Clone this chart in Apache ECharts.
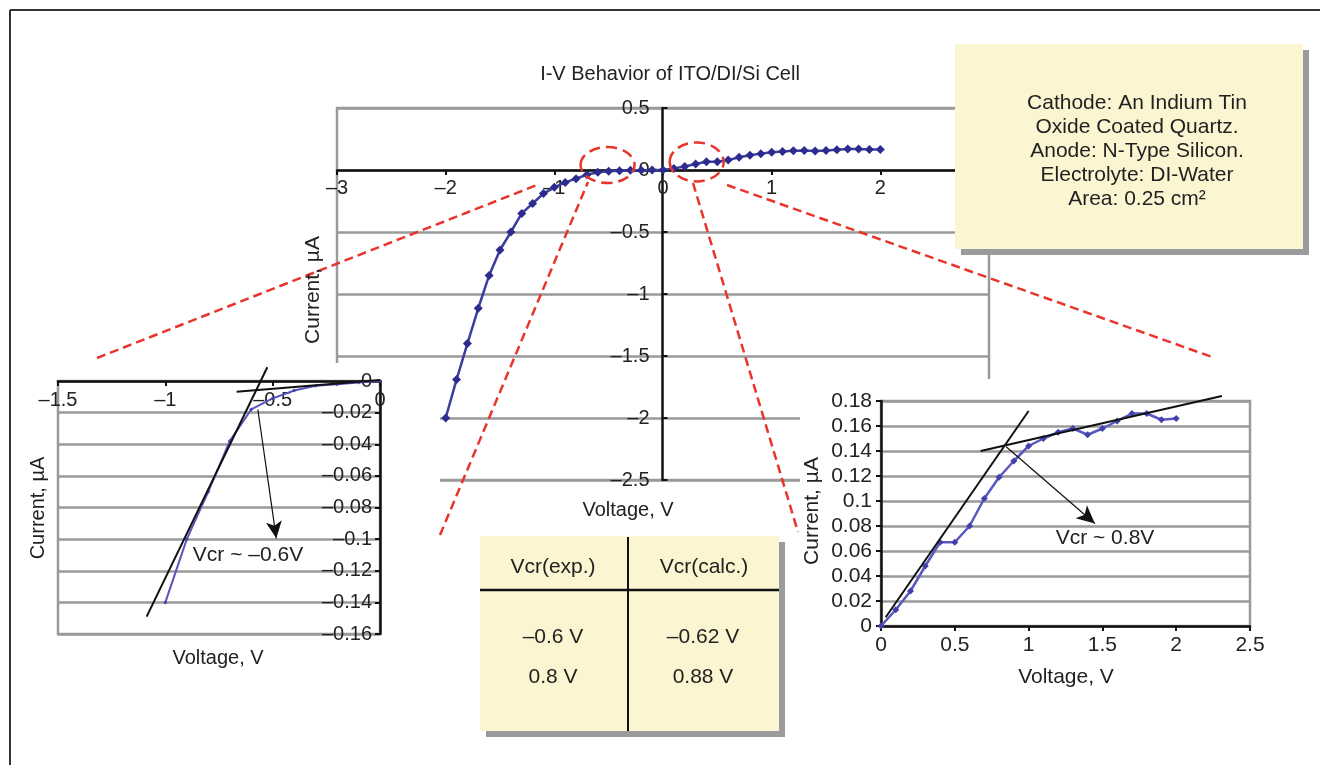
<!DOCTYPE html>
<html>
<head>
<meta charset="utf-8">
<title>I-V Behavior of ITO/DI/Si Cell</title>
<script src="https://cdn.jsdelivr.net/npm/echarts@6/dist/echarts.min.js"></script>
<style>
  html, body { margin: 0; padding: 0; background: #fff; }
  #chart { width: 1320px; height: 765px; }
</style>
</head>
<body>
<div id="chart"></div>
<script>
// full sweep, -2 V .. 2 V
const mainVoltage = [-2, -1.9, -1.8, -1.7, -1.6, -1.5, -1.4, -1.3, -1.2, -1.1, -1, -0.9, -0.8, -0.7, -0.6, -0.5, -0.4, -0.3, -0.2, -0.1,
  0, 0.1, 0.2, 0.3, 0.4, 0.5, 0.6, 0.7, 0.8, 0.9, 1, 1.1, 1.2, 1.3, 1.4, 1.5, 1.6, 1.7, 1.8, 1.9, 2];
const mainCurrent = [-2.0, -1.69, -1.40, -1.115, -0.85, -0.645, -0.5, -0.35, -0.27, -0.19, -0.14, -0.1, -0.07, -0.038, -0.018, -0.011, -0.006, -0.003, -0.002, -0.001,
  0, 0.013, 0.028, 0.048, 0.067, 0.067, 0.08, 0.102, 0.119, 0.132, 0.144, 0.15, 0.155, 0.158, 0.153, 0.158, 0.164, 0.17, 0.17, 0.165, 0.166];

// zoom on the reverse side
const leftVoltage = [-1, -0.9, -0.8, -0.7, -0.6, -0.5, -0.4, -0.3, -0.2, -0.1, 0];
const leftCurrent = [-0.14, -0.1, -0.07, -0.038, -0.018, -0.011, -0.006, -0.003, -0.002, -0.001, 0];

// zoom on the forward side
const rightVoltage = [0, 0.1, 0.2, 0.3, 0.4, 0.5, 0.6, 0.7, 0.8, 0.9, 1, 1.1, 1.2, 1.3, 1.4, 1.5, 1.6, 1.7, 1.8, 1.9, 2];
const rightCurrent = [0, 0.013, 0.028, 0.048, 0.067, 0.067, 0.08, 0.102, 0.119, 0.132, 0.144, 0.15, 0.155, 0.158, 0.153, 0.158, 0.164, 0.17, 0.17, 0.165, 0.166];

// hand-drawn tangents and arrows (V, uA)
const leftSteep = [[-1.087, -0.149], [-0.525, 0.0087]];
const leftFlat = [[-0.668, -0.0068], [0, 0.0006]];
const leftArrow = [[-0.569, -0.018], [-0.483, -0.0995]];
const rightSteep = [[0.032, 0.007], [1.0, 0.172]];
const rightFlat = [[0.675, 0.140], [2.31, 0.184]];
const rightArrow = [[0.848, 0.1434], [1.449, 0.082]];

const tableHead = ['Vcr(exp.)', 'Vcr(calc.)'];
const tableExp = ['–0.6 V', '0.8 V'];
const tableCalc = ['–0.62 V', '0.88 V'];
const noteLines = ['Cathode: An Indium Tin', 'Oxide Coated Quartz.', 'Anode: N-Type Silicon.', 'Electrolyte: DI-Water', 'Area: 0.25 cm²'];

const FONT = '"Liberation Sans", Arial, sans-serif';
const TXT = '#222';
const GRID_GRAY = '#9a9a9a';

const zip = (xs, ys) => xs.map((x, i) => [x, ys[i]]);
const dash = v => String(v).replace('-', '–');

function label(size, margin, inside) {
  return {fontSize: size, color: TXT, fontFamily: FONT, formatter: dash, margin: margin, inside: !!inside};
}

function valueAxis(gridIndex, min, max, interval, extra) {
  return Object.assign({
    type: 'value',
    gridIndex: gridIndex,
    min: min,
    max: max,
    interval: interval,
    z: 4,
    axisLine: {onZero: false, lineStyle: {color: '#111', width: 2.5}},
    axisTick: {show: true, length: 5, lineStyle: {color: '#111', width: 2}},
    splitLine: {show: false}
  }, extra);
}

const gridLines = {show: true, lineStyle: {color: GRID_GRAY, width: 2.5}};

const myChart = echarts.init(document.getElementById('chart'), null, {renderer: 'canvas'});

const option = {
  animation: false,
  backgroundColor: '#fff',
  title: {
    text: 'I-V Behavior of ITO/DI/Si Cell',
    left: 665,
    top: 59,
    textAlign: 'center',
    textStyle: {fontSize: 20, fontWeight: 'normal', color: TXT, fontFamily: FONT}
  },
  grid: [
    {left: 337, top: 108, width: 652, height: 372, show: true, borderColor: GRID_GRAY, borderWidth: 2.5, z: 0},
    {left: 58, top: 381, width: 322, height: 253, show: true, borderColor: GRID_GRAY, borderWidth: 2.5, z: 3},
    {left: 881, top: 401, width: 369, height: 225, show: true, borderColor: GRID_GRAY, borderWidth: 2.5, z: 3}
  ],
  xAxis: [
    // main axis sits on I = 0
    valueAxis(0, -3, 3, 1, {z: 0, position: 'bottom', offset: -310, axisLabel: label(20, 8)}),
    // reverse inset: axis across the top, labels under it
    valueAxis(1, -1.5, 0, 0.5, {position: 'top', axisTick: {show: true, inside: true, length: 5, lineStyle: {color: '#111', width: 2}},
      axisLabel: label(20, 9, true)}),
    valueAxis(2, 0, 2.5, 0.5, {position: 'bottom', axisLabel: label(21, 9)})
  ],
  yAxis: [
    valueAxis(0, -2.5, 0.5, 0.5, {z: 0, position: 'left', offset: -325.5, splitLine: gridLines,
      axisTick: {show: true, inside: true, length: 5, lineStyle: {color: '#111', width: 2}},
      axisLabel: label(20, 13)}),
    valueAxis(1, -0.16, 0, 0.02, {position: 'right', splitLine: gridLines,
      axisTick: {show: true, inside: true, length: 5, lineStyle: {color: '#111', width: 2}},
      axisLabel: label(20, 8, true)}),
    valueAxis(2, 0, 0.18, 0.02, {position: 'left', splitLine: gridLines, axisLabel: label(21, 9)})
  ],
  series: [
    {
      name: 'I-V', type: 'line', xAxisIndex: 0, yAxisIndex: 0, z: 6,
      data: zip(mainVoltage, mainCurrent),
      symbol: 'diamond', symbolSize: 9,
      itemStyle: {color: '#2B2C8E'},
      lineStyle: {color: '#3C3D9C', width: 2.5}
    },
    {
      name: 'reverse', type: 'line', xAxisIndex: 1, yAxisIndex: 1, z: 6,
      data: zip(leftVoltage, leftCurrent),
      symbol: 'diamond', symbolSize: 4,
      itemStyle: {color: '#4543AE'},
      lineStyle: {color: '#5855BE', width: 2}
    },
    {
      type: 'line', xAxisIndex: 1, yAxisIndex: 1, z: 7, clip: false, symbol: 'none',
      data: leftSteep, lineStyle: {color: '#111', width: 2}
    },
    {
      type: 'line', xAxisIndex: 1, yAxisIndex: 1, z: 7, clip: false, symbol: 'none',
      data: leftFlat, lineStyle: {color: '#111', width: 2},
      markLine: {
        silent: true, symbol: ['none', 'arrow'], symbolSize: [12, 17], z: 8,
        label: {show: false},
        lineStyle: {color: '#111', width: 1.2, type: 'solid'},
        data: [[{coord: leftArrow[0]}, {coord: leftArrow[1]}]]
      }
    },
    {
      name: 'forward', type: 'line', xAxisIndex: 2, yAxisIndex: 2, z: 6,
      data: zip(rightVoltage, rightCurrent),
      symbol: 'diamond', symbolSize: 7,
      itemStyle: {color: '#4240AC'},
      lineStyle: {color: '#5A57C0', width: 2.5}
    },
    {
      type: 'line', xAxisIndex: 2, yAxisIndex: 2, z: 7, clip: false, symbol: 'none',
      data: rightSteep, lineStyle: {color: '#111', width: 2}
    },
    {
      type: 'line', xAxisIndex: 2, yAxisIndex: 2, z: 7, clip: false, symbol: 'none',
      data: rightFlat, lineStyle: {color: '#111', width: 2},
      markLine: {
        silent: true, symbol: ['none', 'arrow'], symbolSize: [13, 18], z: 8,
        label: {show: false},
        lineStyle: {color: '#111', width: 1.2, type: 'solid'},
        data: [[{coord: rightArrow[0]}, {coord: rightArrow[1]}]]
      }
    }
  ]
};

myChart.setOption(option);

// overlays: white inset backgrounds, callout ellipses, boxes, labels
const redDash = {stroke: '#E8352B', lineWidth: 2.5, lineDash: [9, 5]};

function txt(x, y, s, size, rot, z) {
  return {
    type: 'text', x: x, y: y, rotation: rot || 0, z: z || 12,
    style: {text: s, fill: TXT, font: size + 'px ' + FONT, textAlign: 'center', textVerticalAlign: 'middle'}
  };
}

function box(x, y, w, h) {
  return [
    {type: 'rect', z: 10, shape: {x: x + 6, y: y + 6, width: w, height: h}, style: {fill: '#9b9b9b'}},
    {type: 'rect', z: 10, shape: {x: x, y: y, width: w, height: h}, style: {fill: '#FBF5D1'}}
  ];
}

const cL = myChart.convertToPixel({gridIndex: 0}, [-0.51, 0.04]);
const cR = myChart.convertToPixel({gridIndex: 0}, [0.31, 0.065]);

const elements = [
  // insets hide the lower corners of the main plot
  {type: 'rect', z: 1, shape: {x: 20, y: 363, width: 420, height: 340}, style: {fill: '#fff'}},
  {type: 'rect', z: 1, shape: {x: 800, y: 379, width: 515, height: 330}, style: {fill: '#fff'}},

  // outer frame
  {type: 'line', z: 12, shape: {x1: 10, y1: 10, x2: 1320, y2: 10}, style: {stroke: '#333', lineWidth: 2}},
  {type: 'line', z: 12, shape: {x1: 10, y1: 10, x2: 10, y2: 765}, style: {stroke: '#333', lineWidth: 2}},

  // callouts
  {type: 'ellipse', z: 11, shape: {cx: cL[0], cy: cL[1], rx: 27, ry: 18}, style: Object.assign({fill: null}, redDash, {lineDash: [11, 6]})},
  {type: 'ellipse', z: 11, shape: {cx: cR[0], cy: cR[1], rx: 27, ry: 19.5}, style: Object.assign({fill: null}, redDash, {lineDash: [11, 6]})},
  {type: 'line', z: 11, shape: {x1: 97, y1: 358, x2: 537, y2: 185}, style: redDash},
  {type: 'line', z: 11, shape: {x1: 440, y1: 535, x2: 588, y2: 182}, style: redDash},
  {type: 'line', z: 11, shape: {x1: 693, y1: 183, x2: 798, y2: 532}, style: redDash},
  {type: 'line', z: 11, shape: {x1: 727, y1: 185, x2: 1215, y2: 358}, style: redDash},

  // axis titles
  txt(313, 290, 'Current, µA', 21, Math.PI / 2),
  txt(628, 510, 'Voltage, V', 20),
  txt(38, 508, 'Current, µA', 20, Math.PI / 2),
  txt(218, 658, 'Voltage, V', 20),
  txt(812, 511, 'Current, µA', 21, Math.PI / 2),
  txt(1066, 677, 'Voltage, V', 21),

  // annotations
  txt(248, 555, 'Vcr ~ –0.6V', 21),
  txt(1105, 538, 'Vcr ~ 0.8V', 21)
];

// parameter note
box(955, 44, 348, 205).forEach(e => elements.push(e));
noteLines.forEach((s, i) => elements.push(txt(1137, 103 + i * 24, s, 21)));

// Vcr table
box(480, 536, 299, 195).forEach(e => elements.push(e));
elements.push({type: 'line', z: 11, shape: {x1: 628, y1: 537, x2: 628, y2: 731}, style: {stroke: '#111', lineWidth: 2}});
elements.push({type: 'line', z: 11, shape: {x1: 480, y1: 590, x2: 779, y2: 590}, style: {stroke: '#111', lineWidth: 2.5}});
tableHead.forEach((s, i) => elements.push(txt(i ? 704 : 553, 567, s, 21)));
tableExp.forEach((s, i) => elements.push(txt(553, 637 + i * 40, s, 21)));
tableCalc.forEach((s, i) => elements.push(txt(703, 637 + i * 40, s, 21)));

myChart.setOption({graphic: {elements: elements}});
</script>
</body>
</html>
